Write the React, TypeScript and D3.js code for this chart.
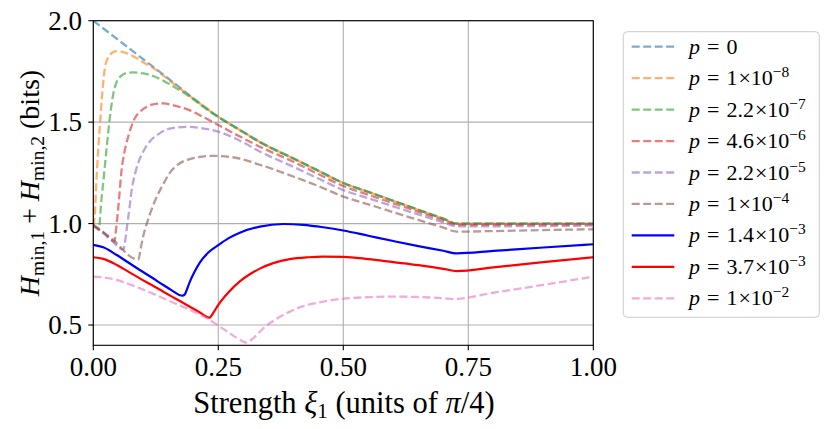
import { useEffect } from 'react'
import * as d3 from 'd3'

type Pt = [number, number]

// values: [strength ξ1, Hmin1 + Hmin2]
const p0: Pt[] = [[0, 2.0], [0.05, 1.905], [0.1, 1.81], [0.15, 1.715], [0.2, 1.618], [0.25, 1.527], [0.3, 1.452], [0.333, 1.403], [0.4, 1.322], [0.45, 1.261], [0.5, 1.2], [0.55, 1.156], [0.6, 1.112], [0.65, 1.068], [0.7, 1.024], [0.727, 1.0], [0.85, 1.0], [1.0, 1.0]]
const p1e8: Pt[] = [[0, 0.99], [0.003, 1.04], [0.006, 1.2], [0.01, 1.37], [0.014, 1.51], [0.017, 1.617], [0.02, 1.7], [0.023, 1.765], [0.028, 1.81], [0.033, 1.83], [0.04, 1.845], [0.05, 1.85], [0.06, 1.845], [0.08, 1.825], [0.1, 1.795], [0.127, 1.755], [0.15, 1.71], [0.2, 1.616], [0.25, 1.526], [0.3, 1.451], [0.333, 1.402], [0.4, 1.321], [0.45, 1.26], [0.5, 1.2], [0.55, 1.156], [0.6, 1.112], [0.65, 1.068], [0.7, 1.024], [0.727, 1.0], [1.0, 1.0]]
const p22e7: Pt[] = [[0, 0.99], [0.008, 0.975], [0.011, 0.97], [0.013, 1.01], [0.016, 1.11], [0.02, 1.206], [0.025, 1.33], [0.03, 1.453], [0.035, 1.56], [0.04, 1.64], [0.047, 1.7], [0.057, 1.73], [0.068, 1.743], [0.08, 1.745], [0.1, 1.74], [0.127, 1.72], [0.15, 1.69], [0.193, 1.625], [0.22, 1.575], [0.25, 1.525], [0.3, 1.45], [0.333, 1.401], [0.4, 1.32], [0.45, 1.26], [0.5, 1.2], [0.55, 1.156], [0.6, 1.112], [0.65, 1.068], [0.7, 1.024], [0.727, 1.0], [1.0, 1.0]]
const p46e6: Pt[] = [[0, 0.99], [0.02, 0.955], [0.042, 0.912], [0.045, 0.96], [0.05, 1.08], [0.057, 1.272], [0.062, 1.35], [0.067, 1.403], [0.075, 1.47], [0.083, 1.519], [0.095, 1.555], [0.107, 1.576], [0.12, 1.588], [0.14, 1.592], [0.165, 1.58], [0.193, 1.558], [0.22, 1.525], [0.25, 1.486], [0.3, 1.42], [0.333, 1.379], [0.4, 1.305], [0.45, 1.244], [0.5, 1.185], [0.55, 1.142], [0.6, 1.1], [0.65, 1.058], [0.7, 1.016], [0.727, 0.994], [1.0, 0.996]]
const p22e5: Pt[] = [[0, 0.99], [0.03, 0.935], [0.06, 0.872], [0.064, 0.92], [0.067, 0.977], [0.072, 1.07], [0.077, 1.17], [0.083, 1.24], [0.09, 1.3], [0.1, 1.355], [0.113, 1.405], [0.127, 1.435], [0.153, 1.468], [0.187, 1.477], [0.215, 1.471], [0.25, 1.453], [0.3, 1.4], [0.333, 1.355], [0.4, 1.28], [0.45, 1.222], [0.5, 1.165], [0.55, 1.125], [0.6, 1.085], [0.65, 1.045], [0.7, 1.006], [0.727, 0.986], [1.0, 0.99]]
const p1e4: Pt[] = [[0, 0.995], [0.04, 0.919], [0.08, 0.829], [0.09, 0.822], [0.095, 0.88], [0.1, 0.94], [0.107, 1.0], [0.113, 1.045], [0.123, 1.11], [0.14, 1.195], [0.153, 1.25], [0.17, 1.292], [0.193, 1.318], [0.24, 1.334], [0.29, 1.322], [0.333, 1.29], [0.353, 1.274], [0.4, 1.232], [0.45, 1.185], [0.5, 1.133], [0.55, 1.095], [0.6, 1.056], [0.65, 1.018], [0.7, 0.98], [0.727, 0.96], [0.8, 0.963], [0.9, 0.968], [1.0, 0.972]]
const p14e3: Pt[] = [[0, 0.895], [0.02, 0.883], [0.047, 0.845], [0.07, 0.808], [0.093, 0.771], [0.117, 0.734], [0.14, 0.697], [0.16, 0.666], [0.172, 0.648], [0.178, 0.645], [0.183, 0.651], [0.188, 0.68], [0.193, 0.713], [0.203, 0.765], [0.213, 0.808], [0.23, 0.857], [0.25, 0.894], [0.27, 0.927], [0.293, 0.955], [0.333, 0.985], [0.38, 0.998], [0.42, 0.994], [0.46, 0.982], [0.5, 0.966], [0.55, 0.94], [0.6, 0.914], [0.65, 0.889], [0.7, 0.866], [0.727, 0.853], [0.8, 0.865], [0.9, 0.882], [1.0, 0.898]]
const p37e3: Pt[] = [[0, 0.834], [0.02, 0.826], [0.047, 0.796], [0.07, 0.763], [0.093, 0.73], [0.117, 0.697], [0.14, 0.664], [0.163, 0.632], [0.187, 0.599], [0.21, 0.567], [0.232, 0.536], [0.24, 0.56], [0.25, 0.599], [0.27, 0.66], [0.293, 0.715], [0.313, 0.75], [0.333, 0.778], [0.36, 0.805], [0.393, 0.825], [0.43, 0.834], [0.46, 0.837], [0.5, 0.836], [0.55, 0.825], [0.6, 0.81], [0.65, 0.795], [0.7, 0.777], [0.727, 0.766], [0.8, 0.784], [0.9, 0.81], [1.0, 0.834]]
const p1e2: Pt[] = [[0, 0.738], [0.02, 0.735], [0.047, 0.722], [0.07, 0.703], [0.093, 0.681], [0.117, 0.657], [0.14, 0.632], [0.163, 0.607], [0.187, 0.582], [0.21, 0.555], [0.233, 0.525], [0.253, 0.492], [0.273, 0.459], [0.29, 0.432], [0.3, 0.418], [0.307, 0.413], [0.315, 0.425], [0.327, 0.451], [0.34, 0.484], [0.36, 0.52], [0.393, 0.566], [0.42, 0.593], [0.46, 0.615], [0.5, 0.63], [0.55, 0.637], [0.6, 0.64], [0.65, 0.638], [0.7, 0.632], [0.72, 0.628], [0.8, 0.659], [0.9, 0.698], [1.0, 0.738]]

// legend text: mantissa and exponent (empty exponent = plain number)
const labelMantissa = ['0', '1', '2.2', '4.6', '2.2', '1', '1.4', '3.7', '1']
const labelExponent = ['', '−8', '−7', '−6', '−5', '−4', '−3', '−3', '−2']

const series = [
  { data: p0, color: '#1f77b4', dashed: true },
  { data: p1e8, color: '#ff7f0e', dashed: true },
  { data: p22e7, color: '#2ca02c', dashed: true },
  { data: p46e6, color: '#d62728', dashed: true },
  { data: p22e5, color: '#9467bd', dashed: true },
  { data: p1e4, color: '#8c564b', dashed: true },
  { data: p14e3, color: '#0000ff', dashed: false },
  { data: p37e3, color: '#ff0000', dashed: false },
  { data: p1e2, color: '#e377c2', dashed: true },
]

const xTicks = [0, 0.25, 0.5, 0.75, 1.0]
const yTicks = [0.5, 1.0, 1.5, 2.0]

const W = 830
const H = 429
const FONT = '"Liberation Serif", "Times New Roman", serif'

export default function App() {
  useEffect(() => {
    document.body.style.margin = '0'
  }, [])

  const x = d3.scaleLinear().domain([0, 1]).range([93.3, 593.3])
  const y = d3.scaleLinear().domain([0.4, 2.0]).range([345.3, 20.7])
  const line = d3.line<Pt>().x(d => x(d[0])).y(d => y(d[1])).curve(d3.curveMonotoneX)

  const [x0, x1] = x.range()
  const [yb, yt] = y.range()
  const fx = d3.format('.2f')
  const fy = d3.format('.1f')

  const legX = 623.3
  const legY = 31.7
  const rowY = (i: number) => 46.7 + i * 31.45
  const dash = '8,3.5'

  return (
    <svg width={W} height={H} style={{ display: 'block', background: '#fff' }} fontFamily={FONT}>
      <defs>
        <clipPath id="plot-clip">
          <rect x={x0} y={yt} width={x1 - x0} height={yb - yt} />
        </clipPath>
      </defs>

      {/* grid */}
      <g stroke="#b0b0b0" strokeWidth={1.1}>
        {xTicks.map(t => <line key={`gx${t}`} x1={x(t)} x2={x(t)} y1={yt} y2={yb} />)}
        {yTicks.map(t => <line key={`gy${t}`} x1={x0} x2={x1} y1={y(t)} y2={y(t)} />)}
      </g>

      {/* curves */}
      <g clipPath="url(#plot-clip)" fill="none">
        {series.map((s, i) => (
          <path
            key={i}
            d={line(s.data) ?? ''}
            stroke={s.color}
            strokeWidth={s.dashed ? 2.3 : 2.2}
            strokeOpacity={s.dashed ? 0.6 : 1}
            strokeDasharray={s.dashed ? dash : undefined}
          />
        ))}
      </g>

      {/* spines */}
      <rect x={x0} y={yt} width={x1 - x0} height={yb - yt} fill="none" stroke="#000" strokeWidth={1.1} />

      {/* x axis */}
      <g fontSize={27} textAnchor="middle">
        {xTicks.map(t => (
          <g key={`xt${t}`}>
            <line x1={x(t)} x2={x(t)} y1={yb} y2={yb + 5} stroke="#000" strokeWidth={1.1} />
            <text x={x(t)} y={376}>{fx(t)}</text>
          </g>
        ))}
      </g>
      <text x={344} y={413} fontSize={30.5} textAnchor="middle">
        Strength <tspan fontStyle="italic">ξ</tspan>
        <tspan fontSize={21} dy={5}>1</tspan>
        <tspan dy={-5}> (units of </tspan>
        <tspan fontStyle="italic">π</tspan>/4)
      </text>

      {/* y axis */}
      <g fontSize={27} textAnchor="end">
        {yTicks.map(t => (
          <g key={`yt${t}`}>
            <line x1={x0 - 5} x2={x0} y1={y(t)} y2={y(t)} stroke="#000" strokeWidth={1.1} />
            <text x={82} y={y(t) + 9}>{fy(t)}</text>
          </g>
        ))}
      </g>
      <text transform="translate(39,183) rotate(-90)" fontSize={28} textAnchor="middle">
        <tspan fontStyle="italic">H</tspan>
        <tspan fontSize={19.5} dy={5}>min,1</tspan>
        <tspan dy={-5}> + </tspan>
        <tspan fontStyle="italic">H</tspan>
        <tspan fontSize={19.5} dy={5}>min,2</tspan>
        <tspan dy={-5}> (bits)</tspan>
      </text>

      {/* legend */}
      <rect x={legX} y={legY} width={196} height={285.6} rx={4} fill="#fff" fillOpacity={0.8} stroke="#cccccc" strokeWidth={1} />
      {series.map((s, i) => (
        <g key={`lg${i}`}>
          <line
            x1={631.7}
            x2={674.3}
            y1={rowY(i)}
            y2={rowY(i)}
            stroke={s.color}
            strokeWidth={s.dashed ? 2.3 : 2.4}
            strokeOpacity={s.dashed ? 0.6 : 1}
            strokeDasharray={s.dashed ? dash : undefined}
          />
          <text x={689} y={rowY(i) + 7} fontSize={22}>
            <tspan fontStyle="italic">p</tspan>
            <tspan dx={7}>=</tspan>
            <tspan dx={7}>{labelMantissa[i]}</tspan>
            {labelExponent[i] && <tspan dx={1}>×10</tspan>}
            {labelExponent[i] && <tspan fontSize={15.5} dy={-8}>{labelExponent[i]}</tspan>}
          </text>
        </g>
      ))}
    </svg>
  )
}
